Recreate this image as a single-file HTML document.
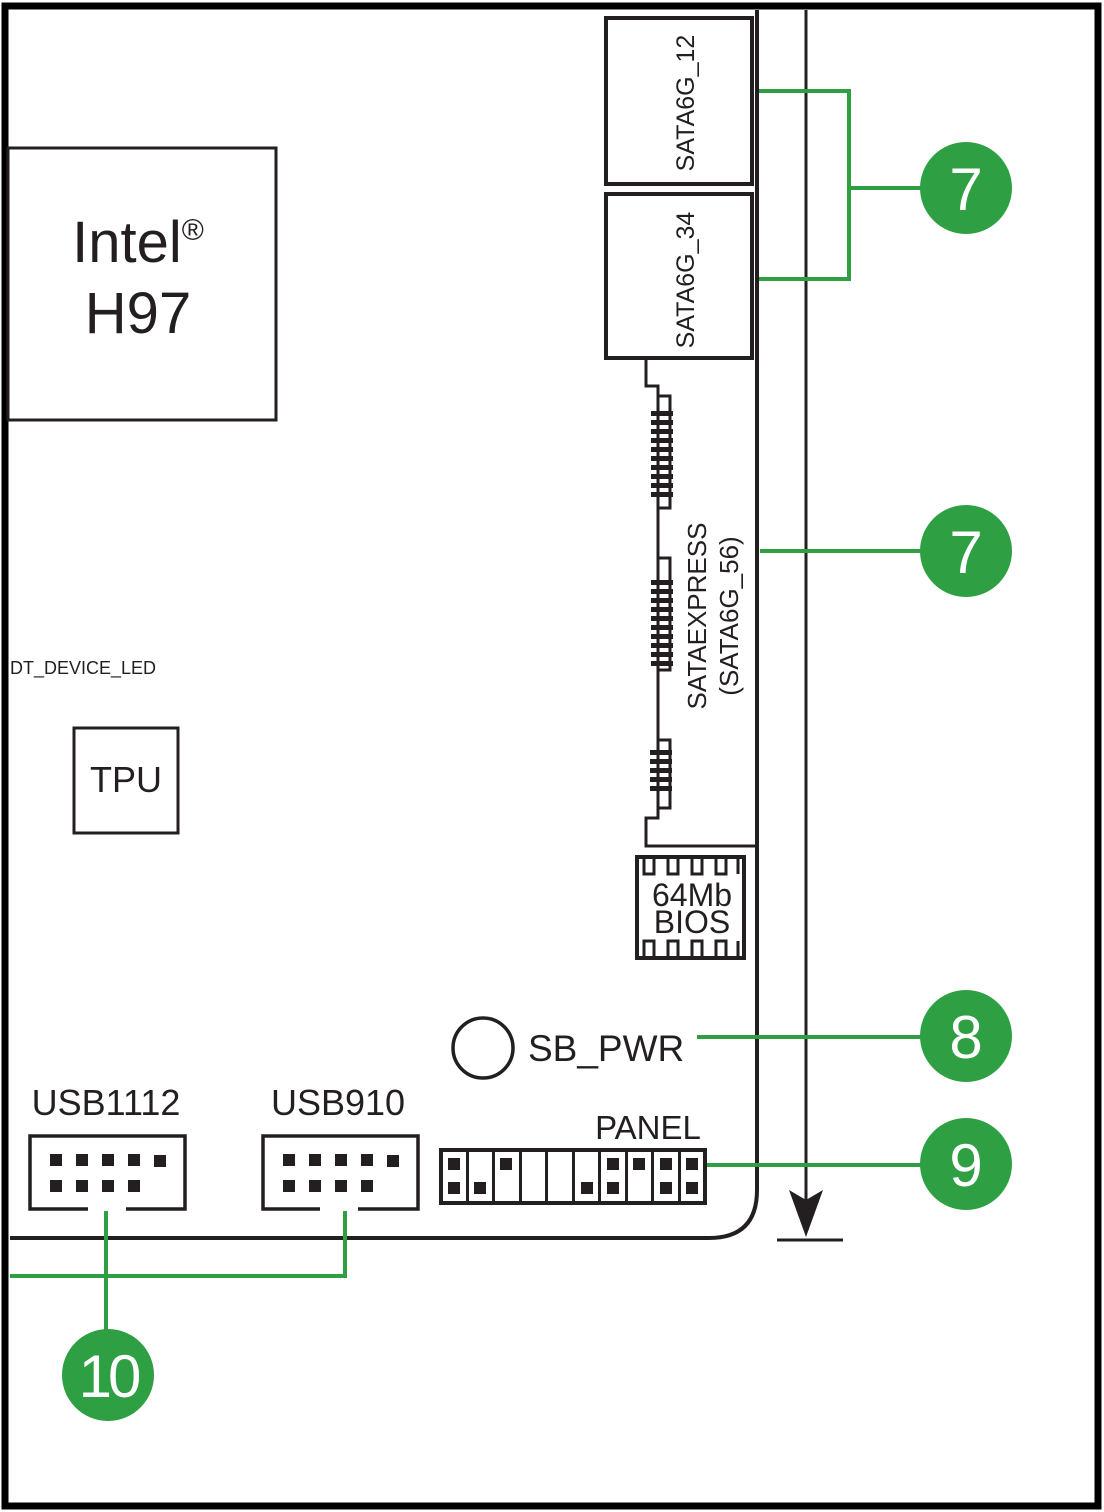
<!DOCTYPE html>
<html><head><meta charset="utf-8"><style>
html,body{margin:0;padding:0;background:#fff}
svg{display:block}
text{font-family:"Liberation Sans",Arial,sans-serif;fill:#231f20}
</style></head><body>
<svg width="1104" height="1512" viewBox="0 0 1104 1512" xmlns="http://www.w3.org/2000/svg">
<rect x="0" y="0" width="1104" height="1512" fill="#fff"/>
<rect x="5" y="6" width="1093" height="1500" fill="none" stroke="#000" stroke-width="7"/>
<g stroke="#231f20" fill="none">
<path d="M757 10 V1190 Q757 1238 709 1238 H10" stroke-width="4"/>
<line x1="806" y1="10" x2="806" y2="1200" stroke-width="3"/>
<line x1="777" y1="1240" x2="843" y2="1240" stroke-width="3"/>
<rect x="8" y="148" width="268" height="272" stroke-width="3"/>
<rect x="74" y="728" width="104" height="105" stroke-width="3"/>
<rect x="606" y="18" width="146" height="166" stroke-width="4"/>
<rect x="606" y="194" width="146" height="164" stroke-width="4"/>
<path d="M646 360 V386 H658 V396 H670 V508 H658 V558 H670 V670 H658 V740 H670 V808 H658 V818 H646 V846 H757" stroke-width="3"/>
<path d="M658 396 V508 M658 558 V670 M658 740 V808" stroke-width="3"/>
<rect x="637" y="857" width="107" height="101" stroke-width="4"/>
<path d="M644 858 V874 H654 V858 M668 858 V874 H678 V858 M692 858 V874 H702 V858 M716 858 V874 H726 V858 M738 858 V874" stroke-width="3"/>
<path d="M644 957 V941 H654 V957 M668 957 V941 H678 V957 M692 957 V941 H702 V957 M716 957 V941 H726 V957 M738 957 V941" stroke-width="3"/>
<circle cx="483" cy="1048" r="30" stroke-width="3.5"/>
<path d="M88 1209 H30 V1136 H185 V1209 H126" stroke-width="3.5"/>
<path d="M320 1209 H263 V1136 H418 V1209 H358" stroke-width="3.5"/>
<rect x="441" y="1150" width="264" height="53" stroke-width="4"/>
</g>
<polygon points="789,1190 806,1200 823,1190 806,1237" fill="#231f20"/>
<g fill="#231f20">
<rect x="651" y="411" width="22" height="5"/><rect x="651" y="420" width="22" height="5"/><rect x="651" y="429" width="22" height="5"/><rect x="651" y="438" width="22" height="5"/><rect x="651" y="447" width="22" height="5"/><rect x="651" y="456" width="22" height="5"/><rect x="651" y="465" width="22" height="5"/><rect x="651" y="474" width="22" height="5"/><rect x="651" y="483" width="22" height="5"/><rect x="651" y="492" width="22" height="5"/>
<rect x="651" y="580" width="22" height="5"/><rect x="651" y="589" width="22" height="5"/><rect x="651" y="598" width="22" height="5"/><rect x="651" y="607" width="22" height="5"/><rect x="651" y="616" width="22" height="5"/><rect x="651" y="625" width="22" height="5"/><rect x="651" y="634" width="22" height="5"/><rect x="651" y="643" width="22" height="5"/><rect x="651" y="652" width="22" height="5"/><rect x="651" y="661" width="22" height="5"/>
<rect x="650" y="750" width="22" height="5"/><rect x="650" y="759" width="22" height="5"/><rect x="650" y="768" width="22" height="5"/><rect x="650" y="777" width="22" height="5"/><rect x="650" y="786" width="22" height="5"/>
<rect x="50" y="1154" width="12" height="12"/><rect x="76" y="1154" width="12" height="12"/><rect x="102" y="1154" width="12" height="12"/><rect x="128" y="1154" width="12" height="12"/><rect x="154" y="1155" width="12" height="12"/>
<rect x="50" y="1180" width="12" height="12"/><rect x="76" y="1180" width="12" height="12"/><rect x="102" y="1180" width="12" height="12"/><rect x="128" y="1180" width="12" height="12"/>
<rect x="283" y="1154" width="12" height="12"/><rect x="309" y="1154" width="12" height="12"/><rect x="335" y="1154" width="12" height="12"/><rect x="361" y="1154" width="12" height="12"/><rect x="387" y="1155" width="12" height="12"/>
<rect x="283" y="1180" width="12" height="12"/><rect x="309" y="1180" width="12" height="12"/><rect x="335" y="1180" width="12" height="12"/><rect x="361" y="1180" width="12" height="12"/>
<rect x="466" y="1150" width="3" height="53"/><rect x="492" y="1150" width="3" height="53"/><rect x="519" y="1150" width="3" height="53"/><rect x="545" y="1150" width="3" height="53"/><rect x="572" y="1150" width="3" height="53"/><rect x="598" y="1150" width="3" height="53"/><rect x="625" y="1150" width="3" height="53"/><rect x="651" y="1150" width="3" height="53"/><rect x="678" y="1150" width="3" height="53"/>
<rect x="448" y="1158" width="12" height="12"/><rect x="448" y="1182" width="12" height="12"/>
<rect x="474" y="1182" width="12" height="12"/>
<rect x="500" y="1158" width="12" height="12"/>
<rect x="581" y="1182" width="12" height="12"/>
<rect x="607" y="1158" width="12" height="12"/><rect x="607" y="1182" width="12" height="12"/>
<rect x="633" y="1158" width="12" height="12"/>
<rect x="660" y="1158" width="12" height="12"/><rect x="660" y="1182" width="12" height="12"/>
<rect x="686" y="1158" width="12" height="12"/><rect x="686" y="1182" width="12" height="12"/>
</g>
<g stroke="#2ea043" stroke-width="4" fill="none">
<path d="M759 91 H849 V279 H759"/>
<line x1="849" y1="188" x2="925" y2="188"/>
<line x1="760" y1="551" x2="925" y2="551"/>
<line x1="697" y1="1037" x2="925" y2="1037"/>
<line x1="707" y1="1165" x2="925" y2="1165"/>
<line x1="106" y1="1211" x2="106" y2="1335"/>
<path d="M345 1211 V1276 H10"/>
</g>
<g fill="#2ea043">
<circle cx="966" cy="188" r="46"/><circle cx="966" cy="551" r="46"/><circle cx="966" cy="1036" r="46"/><circle cx="966" cy="1164" r="46"/><circle cx="108" cy="1375" r="46"/>
</g>
<g font-size="60" text-anchor="middle">
<text x="966" y="210" style="fill:#fff">7</text>
<text x="966" y="573" style="fill:#fff">7</text>
<text x="966" y="1058" style="fill:#fff">8</text>
<text x="966" y="1186" style="fill:#fff">9</text>
<text x="108" y="1397" style="fill:#fff" letter-spacing="-4">10</text>
</g>
<text x="138" y="262" font-size="58" text-anchor="middle">Intel<tspan font-size="30" dy="-22">®</tspan></text>
<text x="138" y="333" font-size="58" text-anchor="middle">H97</text>
<text x="126" y="792" font-size="36" text-anchor="middle">TPU</text>
<text x="10" y="674" font-size="18">DT_DEVICE_LED</text>
<text x="106" y="1115" font-size="36" text-anchor="middle">USB1112</text>
<text x="338" y="1115" font-size="36" text-anchor="middle">USB910</text>
<text x="648" y="1139" font-size="33" text-anchor="middle">PANEL</text>
<text x="528" y="1061" font-size="37">SB_PWR</text>
<text x="692" y="906" font-size="32" text-anchor="middle">64Mb</text>
<text x="692" y="933" font-size="32" text-anchor="middle">BIOS</text>
<text transform="translate(694,103) rotate(-90)" font-size="25" text-anchor="middle">SATA6G_12</text>
<text transform="translate(694,280) rotate(-90)" font-size="25" text-anchor="middle">SATA6G_34</text>
<text transform="translate(706,616) rotate(-90)" font-size="26" text-anchor="middle">SATAEXPRESS</text>
<text transform="translate(738,616) rotate(-90)" font-size="26" text-anchor="middle">(SATA6G_56)</text>
</svg>
</body></html>
